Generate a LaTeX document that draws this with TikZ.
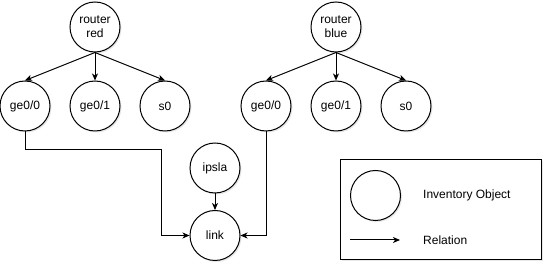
\documentclass[tikz,border=0pt]{standalone}
\usepackage{fontspec}
\setmainfont{Liberation Sans}
\usetikzlibrary{arrows.meta,shadows}
\begin{document}
\begin{tikzpicture}[x=1pt,y=-1pt,
  obj/.style={circle,draw,line width=1pt,fill=white,minimum size=50pt,inner sep=0pt,align=center,
    font=\fontsize{12}{14}\selectfont,
    drop shadow={opacity=0.18,shadow xshift=1.5pt,shadow yshift=-1.5pt}},
  rel/.style={line width=1pt,-{Stealth[length=7pt,width=6pt,inset=2pt]}},
  lbl/.style={anchor=west,font=\fontsize{12}{14}\selectfont,inner sep=0pt}]
\useasboundingbox (0,0) rectangle (552,272);
\node[obj] (rr) at (95,27) {router\\red};
\node[obj] (r0) at (25,106) {ge0/0};
\node[obj] (r1) at (95,106) {ge0/1};
\node[obj] (rs) at (165,106) {s0};
\node[obj] (rb) at (336,27) {router\\blue};
\node[obj] (b0) at (266,106) {ge0/0};
\node[obj] (b1) at (336,106) {ge0/1};
\node[obj] (bs) at (406,106) {s0};
\node[obj] (ip) at (215,168) {ipsla};
\node[obj] (lk) at (215,235.5) {link};
\draw[rel] (rr.south) -- (r0.north);
\draw[rel] (rr.south) -- (r1.north);
\draw[rel] (rr.south) -- (rs.north);
\draw[rel] (rb.south) -- (b0.north);
\draw[rel] (rb.south) -- (b1.north);
\draw[rel] (rb.south) -- (bs.north);
\draw[rel] (ip.south) -- (lk.north);
\draw[rel] (r0.south) |- (161,150) |- (lk.west);
\draw[rel] (b0.south) |- (lk.east);
% legend
\node[draw,line width=1pt,fill=white,minimum width=201pt,minimum height=100pt,inner sep=0pt,
  drop shadow={opacity=0.18,shadow xshift=1.5pt,shadow yshift=-1.5pt}] (lg) at (440.5,210) {};
\node[obj] (lc) at (375.5,195.5) {};
\coordinate (la) at (350,240);
\coordinate (lb) at (400,240);
\draw[rel] (la) -- (lb);
\node[lbl] (t1) at (423,195) {Inventory Object};
\node[lbl] (t2) at (423,240) {Relation};
\end{tikzpicture}
\end{document}
